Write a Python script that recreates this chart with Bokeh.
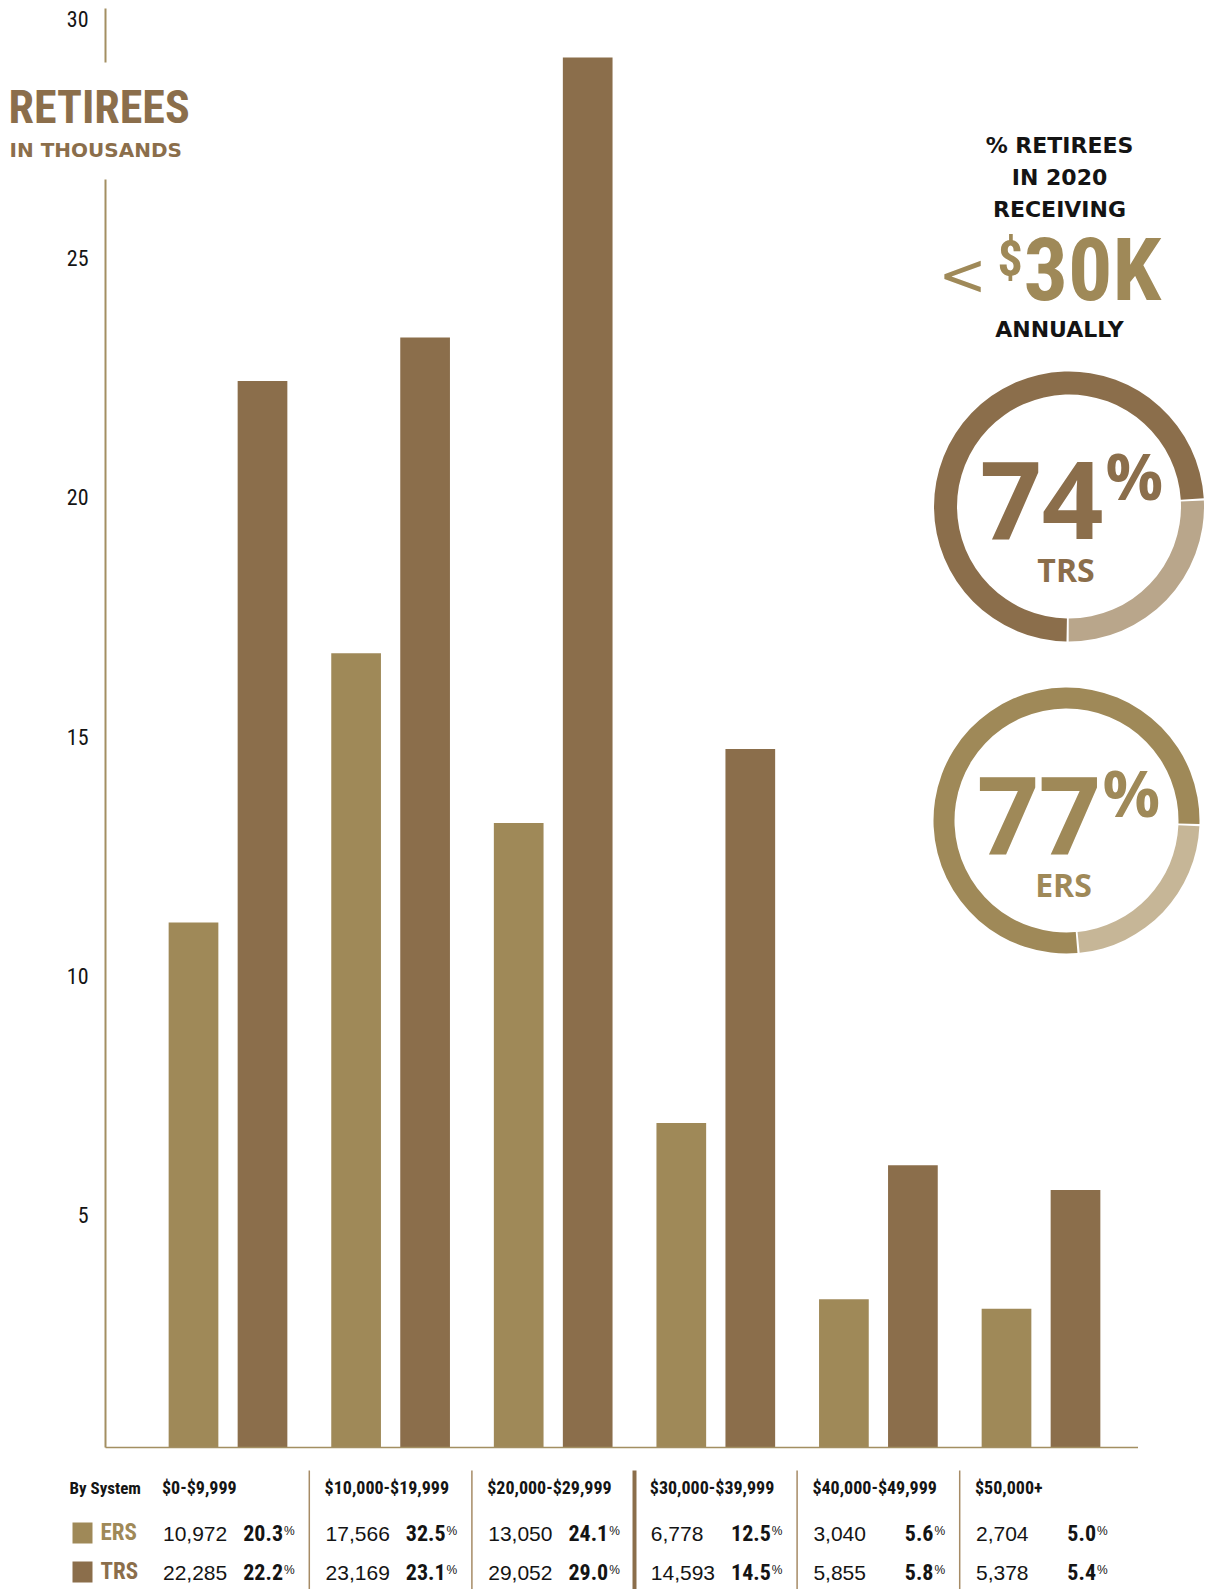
import numpy as np
from bokeh.plotting import figure
from bokeh.models import Range1d, ColumnDataSource
from bokeh.core.properties import value
from bokeh.embed import file_html
from bokeh.resources import INLINE

# ---------------- data ----------------
brackets = ["$0-$9,999", "$10,000-$19,999", "$20,000-$29,999",
            "$30,000-$39,999", "$40,000-$49,999", "$50,000+"]
# bar heights as drawn (thousands of retirees)
ers_bar_k = [10.97, 16.6, 13.05, 6.78, 3.1, 2.9]
trs_bar_k = [22.29, 23.2, 29.05, 14.6, 5.9, 5.38]
# table values
ers_retirees = [10972, 17566, 13050, 6778, 3040, 2704]
trs_retirees = [22285, 23169, 29052, 14593, 5855, 5378]
ers_pct = [20.3, 32.5, 24.1, 12.5, 5.6, 5.0]
trs_pct = [22.2, 23.1, 29.0, 14.5, 5.8, 5.4]
y_ticks = [5, 10, 15, 20, 25, 30]
donut_systems = ["TRS", "ERS"]
share_under_30k = [74, 77]

# ---------------- styling / layout constants ----------------
W, H = 1206, 1589
GROUP_PX = 162.6      # px between bracket groups
FIRST_PX = 227.5      # px of first group centre
BASE_PX = 1447.0      # px of zero line
UNIT_PX = 47.85       # px per thousand retirees
SHIFT = 0.37          # renderer baseline correction (fraction of font size)

ERS_C = "#9f8958"
TRS_C = "#8b6e4b"
ERS_LIGHT = "#c6b697"
TRS_LIGHT = "#b9a68b"
AXIS_C = "#a38f62"
INK = "#141414"

COND = value("Roboto Condensed, DejaVu Sans Condensed, Noto Sans Condensed, Liberation Sans Narrow, Roboto")
SANS = value("Liberation Sans")
WIDE = value("DejaVu Sans")
GEO = value("Open Sans")


def X(px):
    return (px - FIRST_PX) / GROUP_PX


def Y(py):
    return (BASE_PX - py) / UNIT_PX


def B(py, fs):
    """data y for a text whose visual baseline should sit at pixel row py"""
    return Y(py - SHIFT * fs)


p = figure(width=W, height=H, x_range=Range1d(X(0), X(W)), y_range=Range1d(Y(H), Y(0)),
           output_backend="svg", toolbar_location=None, min_border=0,
           x_axis_location=None, y_axis_location=None, outline_line_color=None,
           background_fill_color="white", border_fill_color="white")
p.xgrid.visible = False
p.ygrid.visible = False

idx = np.arange(len(brackets))
BAR_OFF = 34.5 / GROUP_PX
BAR_W = 49.7 / GROUP_PX

# ---------------- bars ----------------
p.vbar(x=idx - BAR_OFF, top=ers_bar_k, bottom=0, width=BAR_W, fill_color=ERS_C, line_color=None)
p.vbar(x=idx + BAR_OFF, top=trs_bar_k, bottom=0, width=BAR_W, fill_color=TRS_C, line_color=None)

# ---------------- axis lines ----------------
p.segment(x0=[X(105), X(105)], y0=[0, Y(62)], x1=[X(105), X(105)], y1=[Y(179), Y(8)],
          line_color=AXIS_C, line_width=2)
p.segment(x0=[X(105)], y0=[0], x1=[X(1137.5)], y1=[0], line_color=AXIS_C, line_width=1.6)

# tick labels (visual baseline ~15px below the tick value)
TICK_FS = 22
p.text(x=[X(88)] * len(y_ticks),
       y=[t - (15 - SHIFT * TICK_FS) / UNIT_PX for t in y_ticks],
       text=[str(t) for t in y_ticks],
       text_align="right", text_baseline="alphabetic", text_font=COND,
       text_font_size=f"{TICK_FS}px", text_color=INK)

# ---------------- left title ----------------
p.text(x=[X(8)], y=[B(124, 46)], text=["RETIREES"], text_font=COND, text_font_style="bold",
       text_font_size="46px", text_color=TRS_C, text_baseline="alphabetic")
p.text(x=[X(9)], y=[B(157, 20)], text=["IN THOUSANDS"], text_font=WIDE, text_font_style="bold",
       text_font_size="20px", text_color=TRS_C, text_baseline="alphabetic")

# ---------------- right callout ----------------
callout = ["% RETIREES", "IN 2020", "RECEIVING"]
p.text(x=[X(1059)] * 3, y=[B(153, 22), B(185, 22), B(217, 22)], text=callout, text_font=WIDE,
       text_font_style="bold", text_font_size="22px", text_color=INK, text_align="center",
       text_baseline="alphabetic")
p.text(x=[X(1059)], y=[B(337, 22)], text=["ANNUALLY"], text_font=WIDE, text_font_style="bold",
       text_font_size="22px", text_color=INK, text_align="center", text_baseline="alphabetic")
p.text(x=[X(962)], y=[B(296, 58)], text=["<"], text_font=WIDE, text_font_size="58px",
       text_color=ERS_C, text_align="center", text_baseline="alphabetic")
p.text(x=[X(997)], y=[B(277, 50)], text=["$"], text_font=COND, text_font_style="bold",
       text_font_size="50px", text_color=ERS_C, text_baseline="alphabetic")
p.text(x=[X(1023)], y=[B(302, 88)], text=["30K"], text_font=COND, text_font_style="bold",
       text_font_size="88px", text_color=ERS_C, text_baseline="alphabetic")

# ---------------- donuts ----------------
centres = {"TRS": (1068.5, 506.0), "ERS": (1066.0, 820.0)}
radii = {"TRS": (112, 135), "ERS": (112, 133)}
start_deg = {"TRS": 3.0, "ERS": -2.0}
dark = {"TRS": TRS_C, "ERS": ERS_C}
light = {"TRS": TRS_LIGHT, "ERS": ERS_LIGHT}
num_pos = {"TRS": (1103, 539, 499, 581), "ERS": (1100, 854, 816, 896)}

wx, wy, wi, wo, ws, we, wc = [], [], [], [], [], [], []
for sysname, share in zip(donut_systems, share_under_30k):
    cx, cy = centres[sysname]
    ri, ro = radii[sysname]
    a0 = start_deg[sysname]
    a1 = a0 + share * 3.6
    gap = np.rad2deg(2.0 / ((ri + ro) / 2)) / 2
    for s, e, c in [(a0 + gap, a1 - gap, dark[sysname]), (a1 + gap, a0 + 360 - gap, light[sysname])]:
        wx.append(X(cx)); wy.append(Y(cy)); wi.append(ri); wo.append(ro)
        ws.append(np.deg2rad(s)); we.append(np.deg2rad(e)); wc.append(c)

p.annular_wedge(x="x", y="y", inner_radius="ri", outer_radius="ro", start_angle="s", end_angle="e",
                fill_color="c", line_color=None, inner_radius_units="screen", outer_radius_units="screen",
                source=ColumnDataSource(dict(x=wx, y=wy, ri=wi, ro=wo, s=ws, e=we, c=wc)))

for sysname, share in zip(donut_systems, share_under_30k):
    rx, by, pby, lby = num_pos[sysname]
    cx, _ = centres[sysname]
    p.text(x=[X(rx)], y=[B(by, 108)], text=[str(share)], text_font=GEO, text_font_style="bold",
           text_font_size="108px", text_color=dark[sysname], text_align="right", text_baseline="alphabetic")
    p.text(x=[X(rx + 2)], y=[B(pby, 64)], text=["%"], text_font=GEO, text_font_style="bold",
           text_font_size="64px", text_color=dark[sysname], text_align="left", text_baseline="alphabetic")
    p.text(x=[X(cx - 3)], y=[B(lby, 32)], text=[sysname], text_font=GEO, text_font_style="bold",
           text_font_size="32px", text_color=dark[sysname], text_align="center", text_baseline="alphabetic")

# ---------------- table ----------------
COL_OFF = -66 / GROUP_PX
PCT_R = 121 / GROUP_PX

sep_x = idx[:-1] + 0.5
sep_w = [4 if b.startswith("$20,000") else 1.5 for b in brackets[:-1]]
sep_c = [TRS_C if b.startswith("$20,000") else "#a68b66" for b in brackets[:-1]]
p.segment(x0="x", x1="x", y0=Y(1470), y1=Y(H), line_width="w", line_color="c",
          source=ColumnDataSource(dict(x=sep_x, w=sep_w, c=sep_c)))

HEAD_FS = 18
p.text(x=[X(69)], y=[B(1494, HEAD_FS)], text=["By System"], text_font=COND, text_font_style="bold",
       text_font_size="17px", text_color=INK, text_baseline="alphabetic")
p.text(x=idx + COL_OFF, y=[B(1494, HEAD_FS)] * len(brackets), text=brackets, text_font=COND,
       text_font_style="bold", text_font_size=f"{HEAD_FS}px", text_color=INK, text_baseline="alphabetic")

rows = [("ERS", ers_retirees, ers_pct, ERS_C, 1541, 1522), ("TRS", trs_retirees, trs_pct, TRS_C, 1580, 1561)]
for name, counts, pcts, col, base, sq_top in rows:
    p.quad(left=[X(72)], right=[X(92)], top=[Y(sq_top)], bottom=[Y(sq_top + 21)],
           fill_color=col, line_color=None)
    p.text(x=[X(100)], y=[B(base, 23)], text=[name], text_font=COND, text_font_style="bold",
           text_font_size="23px", text_color=col, text_baseline="alphabetic")
    p.text(x=idx + COL_OFF + 1 / GROUP_PX, y=[B(base, 21)] * len(counts), text=[f"{c:,}" for c in counts],
           text_font=SANS, text_font_size="21px", text_color=INK, text_baseline="alphabetic")
    p.text(x=idx + COL_OFF + PCT_R, y=[B(base, 22)] * len(pcts), text=[f"{v:.1f}" for v in pcts],
           text_font=COND, text_font_style="bold", text_font_size="22px", text_color=INK,
           text_align="right", text_baseline="alphabetic")
    p.text(x=idx + COL_OFF + PCT_R + 1 / GROUP_PX, y=[B(base - 6, 12)] * len(pcts), text=["%"] * len(pcts),
           text_font=SANS, text_font_size="12px", text_color=INK, text_baseline="alphabetic")

open("out.html", "w").write(file_html(p, INLINE))
